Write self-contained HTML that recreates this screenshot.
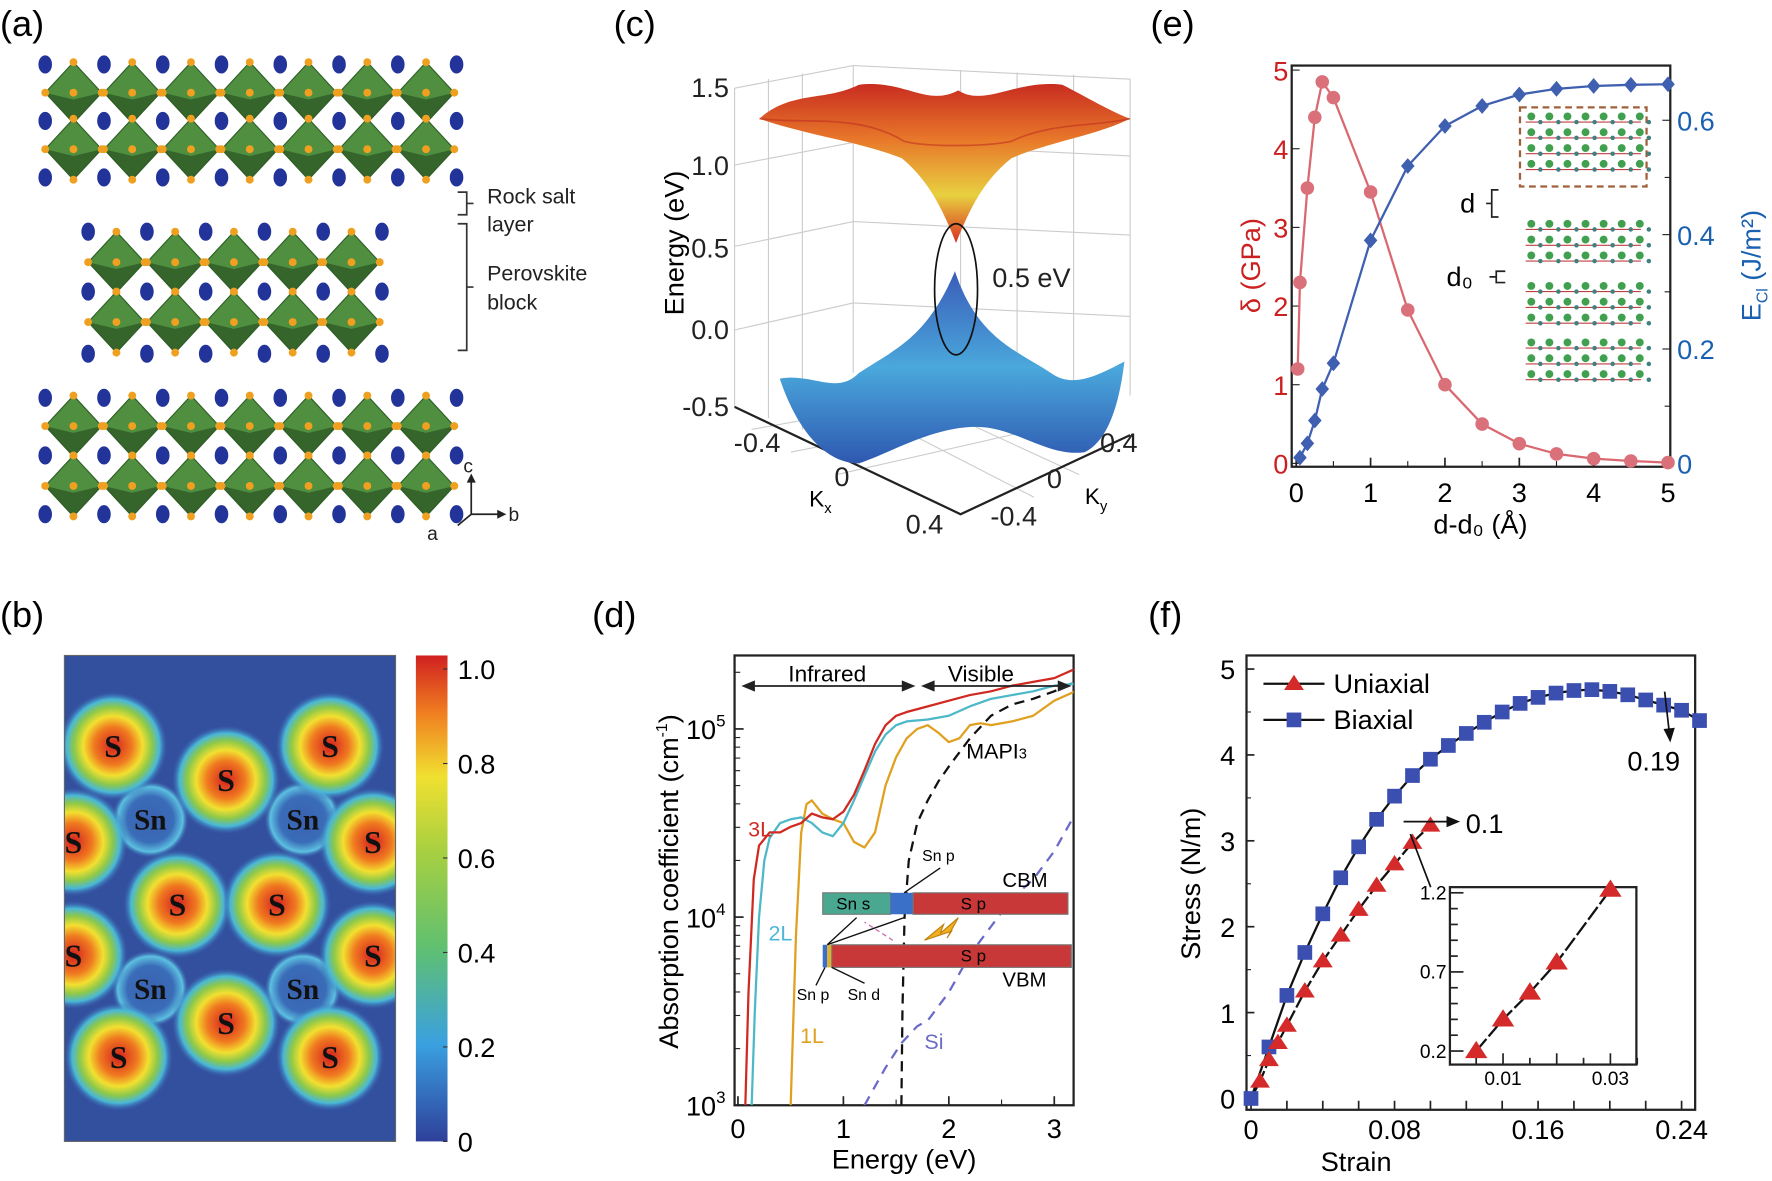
<!DOCTYPE html>
<html><head><meta charset="utf-8">
<style>
html,body{margin:0;padding:0;background:#fff;}
svg{display:block;font-family:"Liberation Sans",sans-serif;}
</style></head>
<body>
<svg id="fig" width="1772" height="1181" viewBox="0 0 1568 1045" xmlns="http://www.w3.org/2000/svg">
<defs>
  <radialGradient id="blob" cx="50%" cy="50%" r="50%">
    <stop offset="0" stop-color="#d42020"/>
    <stop offset="0.35" stop-color="#f07a20"/>
    <stop offset="0.55" stop-color="#f2e030"/>
    <stop offset="0.72" stop-color="#8cc84a"/>
    <stop offset="0.86" stop-color="#49b8d8"/>
    <stop offset="1" stop-color="#3a62b0" stop-opacity="0"/>
  </radialGradient>
  <radialGradient id="snblob" cx="50%" cy="50%" r="50%">
    <stop offset="0" stop-color="#3a62b0"/>
    <stop offset="0.6" stop-color="#3a6cb8"/>
    <stop offset="0.85" stop-color="#5cc0e0"/>
    <stop offset="1" stop-color="#3a62b0" stop-opacity="0"/>
  </radialGradient>
  <linearGradient id="cbar" x1="0" y1="1" x2="0" y2="0">
    <stop offset="0" stop-color="#2e3f9a"/>
    <stop offset="0.2" stop-color="#3aa0e0"/>
    <stop offset="0.4" stop-color="#60c070"/>
    <stop offset="0.6" stop-color="#a8d040"/>
    <stop offset="0.75" stop-color="#f0e030"/>
    <stop offset="0.88" stop-color="#f08020"/>
    <stop offset="1" stop-color="#d02020"/>
  </linearGradient>
  <linearGradient id="topSurf" x1="0" y1="0" x2="0" y2="1">
    <stop offset="0" stop-color="#c82c20"/>
    <stop offset="0.35" stop-color="#e8782a"/>
    <stop offset="0.7" stop-color="#e8d040"/>
    <stop offset="1" stop-color="#d83020"/>
  </linearGradient>
  <linearGradient id="botSurf" x1="0" y1="0" x2="0" y2="1">
    <stop offset="0" stop-color="#3a5cb8"/>
    <stop offset="0.5" stop-color="#4aa8dc"/>
    <stop offset="1" stop-color="#2e58b0"/>
  </linearGradient>
  <clipPath id="clipD"><rect x="650" y="580" width="300" height="398"/></clipPath>
  <clipPath id="clipB"><rect x="57" y="580" width="293" height="430"/></clipPath>
</defs>

<text x="0" y="32" font-size="32">(a)</text>
<text x="543" y="32" font-size="32">(c)</text>
<text x="1018" y="32" font-size="32">(e)</text>
<text x="0" y="555" font-size="32">(b)</text>
<text x="524" y="555" font-size="32">(d)</text>
<text x="1016" y="555" font-size="32">(f)</text>

<g id="panelA"></g>
<g font-size="19" fill="#222">
  <path d="M405,170 h8 v20 h-8 M413,180 h6" stroke="#333" fill="none" stroke-width="1.5"/>
  <path d="M405,198 h8 v112 h-8 M413,254 h6" stroke="#333" fill="none" stroke-width="1.5"/>
  <text x="431" y="180">Rock salt</text>
  <text x="431" y="205">layer</text>
  <text x="431" y="248">Perovskite</text>
  <text x="431" y="274">block</text>
  <path d="M417,455 v-30 M417,455 h25 M417,455 l-12,10" stroke="#222" stroke-width="1.5" fill="none"/>
  <path d="M413,427 l4,-8 l4,8z M440,451 l8,4 l-8,4z" fill="#222"/>
  <text x="410" y="418" font-size="17">c</text>
  <text x="450" y="461" font-size="17">b</text>
  <text x="378" y="478" font-size="17">a</text>
</g>

<g>
  <rect x="57" y="580" width="293" height="430" fill="#33509f"/>
  <g id="blobs" clip-path="url(#clipB)"></g>
  <rect x="57" y="580" width="293" height="430" fill="none" stroke="#666" stroke-width="1"/>
</g>
<g>
  <rect x="368" y="580" width="28" height="430" fill="url(#cbar)"/>
  <g id="cbarTicks" font-size="24"></g>
</g>

<g>
  <g stroke="#ccc" stroke-width="1" fill="none">
    <path d="M650,78 L755,58 L1000,70 L1000,350 M650,78 L650,360 M755,58 L755,330 M650,146 L755,126 M650,218 L755,196 M650,292 L755,268 M755,126 L1000,138 M755,196 L1000,208 M755,268 L1000,280"/>
    <path d="M680,70 L680,370 M710,65 L710,380 M850,62 L850,360 M900,64 L900,360 M950,66 L950,360"/>
    <path d="M665,380 L890,340 M700,400 L930,355 M740,420 L960,370 M760,330 L955,420 M720,340 L915,440"/>
  </g>
  <path d="M650,360 L850,455 L1000,385" stroke="#222" stroke-width="2" fill="none"/>
  <path d="M672,105 C700,80 730,90 760,75 C800,70 820,95 848,80 C870,95 900,70 940,75 C960,85 985,100 1000,105 C970,120 930,125 895,140 C870,160 858,185 846,215 C834,185 822,160 798,140 C760,125 715,120 672,105Z" fill="url(#topSurf)"/>
  <path d="M672,105 C710,110 760,100 800,125 C820,130 870,130 895,125 C930,108 970,112 1000,105" stroke="#c03020" stroke-width="1.5" fill="none" opacity="0.6"/>
  <path d="M690,335 C720,330 740,350 760,330 C790,310 820,300 845,240 C865,300 900,310 930,330 C950,345 975,330 995,320 C990,360 980,390 960,400 C930,405 900,380 870,378 C830,375 790,400 760,410 C730,410 705,380 690,335Z" fill="url(#botSurf)"/>
  <ellipse cx="846" cy="256" rx="19" ry="58" fill="none" stroke="#111" stroke-width="1.5"/>
  <text x="878" y="254" font-size="24" fill="#222">0.5 eV</text>
  <g font-size="24" fill="#222" text-anchor="end">
    <text x="645" y="86">1.5</text>
    <text x="645" y="155">1.0</text>
    <text x="645" y="228">0.5</text>
    <text x="645" y="300">0.0</text>
    <text x="645" y="368">-0.5</text>
  </g>
  <text transform="translate(605,215) rotate(-90)" text-anchor="middle" font-size="24">Energy (eV)</text>
  <g font-size="24" fill="#222" text-anchor="middle">
    <text x="670" y="400">-0.4</text>
    <text x="745" y="430">0</text>
    <text x="818" y="472">0.4</text>
    <text x="897" y="465">-0.4</text>
    <text x="933" y="432">0</text>
    <text x="990" y="400">0.4</text>
  </g>
  <text x="716" y="448" font-size="20">K<tspan font-size="13" dy="6">x</tspan></text>
  <text x="960" y="446" font-size="20">K<tspan font-size="13" dy="6">y</tspan></text>
</g>

<g id="panelD"></g>
<g id="panelE"></g>
<g id="panelF"></g>
</svg>

<script>
// ===== (d) data =====
const dXTicks = [0,1,2,3];
const dYTicks = [3,4,5];
const d3Lx = [0.07,0.1,0.15,0.2,0.3,0.4,0.5,0.6,0.7,0.8,0.9,1.0,1.1,1.2,1.3,1.4,1.5,1.6,1.8,2.0,2.2,2.4,2.6,2.8,3.0,3.2];
const d3Ly = [3,3.6,4.2,4.38,4.45,4.45,4.48,4.5,4.55,4.53,4.52,4.56,4.65,4.78,4.92,5.02,5.07,5.09,5.12,5.15,5.18,5.2,5.23,5.25,5.27,5.32];
const d2Lx = [0.13,0.16,0.2,0.25,0.3,0.4,0.5,0.6,0.7,0.8,0.9,1.0,1.1,1.2,1.3,1.4,1.5,1.6,1.8,2.0,2.2,2.4,2.6,2.8,3.0,3.2];
const d2Ly = [3,3.5,4.0,4.3,4.42,4.5,4.52,4.53,4.5,4.45,4.43,4.5,4.62,4.75,4.88,4.97,5.02,5.04,5.05,5.07,5.12,5.16,5.18,5.2,5.23,5.24];
const d1Lx = [0.5,0.55,0.6,0.65,0.7,0.8,0.9,1.0,1.1,1.2,1.3,1.4,1.5,1.6,1.7,1.8,1.9,2.0,2.1,2.2,2.3,2.4,2.6,2.8,3.0,3.2];
const d1Ly = [3,3.9,4.45,4.6,4.62,4.55,4.52,4.5,4.4,4.37,4.45,4.7,4.85,4.95,5.0,5.02,4.98,4.93,4.95,5.02,5.03,5.02,5.04,5.07,5.15,5.2];
const dMAx = [1.55,1.56,1.58,1.62,1.7,1.8,1.9,2.0,2.2,2.4,2.6,2.8,3.0,3.2];
const dMAy = [3,3.5,4.0,4.3,4.5,4.62,4.72,4.8,4.95,5.07,5.13,5.16,5.2,5.25];
const dSix = [1.2,1.4,1.55,1.7,1.8,2.0,2.2,2.4,2.6,2.8,3.0,3.2];
const dSiy = [3,3.2,3.33,3.42,3.45,3.6,3.8,3.95,4.1,4.2,4.35,4.55];

// ===== (e) data =====
const eXTicks = [0,1,2,3,4,5];
const eLTicks = [0,1,2,3,4,5];
const eRTicks = [0,0.2,0.4,0.6];
const eDx = [0.02,0.05,0.15,0.25,0.35,0.5,1,1.5,2,2.5,3,3.5,4,4.5,5];
const eDy = [1.2,2.3,3.5,4.4,4.85,4.65,3.45,1.95,1.0,0.5,0.25,0.12,0.06,0.03,0.01];
const eEx = [0.05,0.15,0.25,0.35,0.5,1,1.5,2,2.5,3,3.5,4,4.5,5];
const eEy = [0.01,0.035,0.075,0.13,0.175,0.39,0.52,0.59,0.625,0.645,0.655,0.66,0.662,0.663];

// ===== (f) data =====
const fXTicks = [0,0.08,0.16,0.24];
const fYTicks = [0,1,2,3,4,5];
const fBx = [0,0.01,0.02,0.03,0.04,0.05,0.06,0.07,0.08,0.09,0.1,0.11,0.12,0.13,0.14,0.15,0.16,0.17,0.18,0.19,0.2,0.21,0.22,0.23,0.24,0.25];
const fBy = [0,0.6,1.2,1.7,2.15,2.57,2.93,3.25,3.52,3.76,3.95,4.11,4.25,4.38,4.5,4.6,4.67,4.72,4.75,4.76,4.74,4.7,4.64,4.58,4.52,4.4];
const fUx = [0.005,0.01,0.015,0.02,0.03,0.04,0.05,0.06,0.07,0.08,0.09,0.1];
const fUy = [0.2,0.45,0.65,0.85,1.25,1.6,1.9,2.2,2.48,2.73,2.98,3.18];
const fIx = [0.005,0.01,0.015,0.02,0.03];
const fIy = [0.2,0.4,0.57,0.76,1.22];
const fIXTicks = [0.01,0.03];
const fIYTicks = [0.2,0.7,1.2];

const NS = "http://www.w3.org/2000/svg";
function mk(parent, tag, attrs, text){
  const e = document.createElementNS(NS, tag);
  for (const k in attrs) e.setAttribute(k, attrs[k]);
  if (text !== undefined) e.textContent = text;
  parent.appendChild(e);
  return e;
}

// ---------- (a) ----------
(function(){
  const g = document.getElementById('panelA');
  function block(cx0, n, rowYs, sphereYs, bx0, bn){
    rowYs.forEach(cy=>{
      for(let k=0;k<n;k++){
        const cx = cx0 + 52*k;
        const d = `M${cx},${cy-27} L${cx+25},${cy} L${cx},${cy+27} L${cx-25},${cy}Z`;
        const p = mk(g,'path',{d:d,fill:'#4f8f3f',stroke:'#2f5f27','stroke-width':1});
        
        
        mk(g,'path',{d:`M${cx-25},${cy} L${cx},${cy+27} L${cx+25},${cy} L${cx},${cy+6}Z`,fill:'#2e5a26',opacity:0.8});
        [[cx,cy-27],[cx+25,cy],[cx,cy+27],[cx-25,cy],[cx,cy]].forEach(q=>mk(g,'circle',{cx:q[0],cy:q[1],r:3.5,fill:'#f0a020'}));
      }
    });
    sphereYs.forEach(sy=>{
      for(let k=0;k<bn;k++){
        mk(g,'ellipse',{cx:bx0+52*k,cy:sy,rx:6,ry:8,fill:'#22349a'});
      }
    });
  }
  block(65,7,[82,132],[57,107,157],40,8);
  block(103,5,[232,285],[205,258,313],78,6);
  block(65,7,[377,430],[352,403,455],40,8);
})();

// ---------- (b) ----------
(function(){
  const g = document.getElementById('blobs');
  const S = [[100,660],[292,660],[200,690],[65,745],[330,745],[157,800],[245,800],[65,845],[330,845],[200,905],[105,935],[292,935]];
  const Sn = [[133,725],[268,725],[133,875],[268,875]];
  Sn.forEach(p=>{mk(g,'circle',{cx:p[0],cy:p[1],r:34,fill:'url(#snblob)'});});
  S.forEach(p=>{
    const c = mk(g,'circle',{cx:p[0],cy:p[1],r:48,fill:'url(#blob)'});
    
    
  });
  S.forEach(p=>mk(g,'text',{x:p[0],y:p[1]+10,'text-anchor':'middle','font-size':28,'font-weight':'bold','font-family':'Liberation Serif, serif',fill:'#111'},'S'));
  Sn.forEach(p=>mk(g,'text',{x:p[0],y:p[1]+9,'text-anchor':'middle','font-size':26,'font-weight':'bold','font-family':'Liberation Serif, serif',fill:'#111'},'Sn'));
  const t = document.getElementById('cbarTicks');
  ['1.0','0.8','0.6','0.4','0.2','0'].forEach((s,i)=>{
    const y = 592 + i*83.6;
    mk(t,'line',{x1:392,x2:396,y1:y,y2:y,stroke:'#333'});
    mk(t,'text',{x:405,y:y+9},s);
  });
})();

// ---------- (d) ----------
(function(){
  const g = document.getElementById('panelD');
  const X = v=>653+v*93.3, Y = l=>978-(l-3)*166.5;
  mk(g,'rect',{x:650,y:580,width:300,height:398,fill:'none',stroke:'#222','stroke-width':2});
  dXTicks.forEach(v=>{mk(g,'line',{x1:X(v),x2:X(v),y1:978,y2:970,stroke:'#222','stroke-width':1.5});mk(g,'text',{x:X(v),y:1007,'text-anchor':'middle','font-size':24},String(v));});
  [0.5,1.5,2.5].forEach(v=>mk(g,'line',{x1:X(v),x2:X(v),y1:978,y2:973,stroke:'#222'}));
  dYTicks.forEach(l=>{
    mk(g,'line',{x1:650,x2:658,y1:Y(l),y2:Y(l),stroke:'#222','stroke-width':1.5});
    const t = mk(g,'text',{x:642,y:Y(l)+9,'text-anchor':'end','font-size':24},'10');
    mk(t,'tspan',{'font-size':15,dy:-11},String(l));
  });
  for(let d=3; d<6; d++){for(let m=2;m<10;m++){const l=d+Math.log10(m); if(l<5.39) mk(g,'line',{x1:650,x2:655,y1:Y(l),y2:Y(l),stroke:'#222'});}}
  const ty = mk(g,'text',{transform:'translate(600,780) rotate(-90)','text-anchor':'middle','font-size':24},'Absorption coefficient (cm');
  mk(ty,'tspan',{'font-size':14,dy:-10},'-1');
  mk(ty,'tspan',{dy:10},')');
  mk(g,'text',{x:800,y:1034,'text-anchor':'middle','font-size':24},'Energy (eV)');
  const cg = mk(g,'g',{'clip-path':'url(#clipD)'});
  function line(xs,ys,color,dash,name){
    const pts = xs.map((x,i)=>X(x)+','+Y(ys[i])).join(' ');
    const p = mk(cg,'polyline',{points:pts,fill:'none',stroke:color,'stroke-width':2,'stroke-dasharray':dash||'none','stroke-linejoin':'round'});
    
    
  }
  line(dSix,dSiy,'#6a6ac8','9,7','si-curve');
  line(dMAx,dMAy,'#111','9,6','mapi3-curve');
  line(d1Lx,d1Ly,'#e0a020',null,'curve-1l');
  line(d2Lx,d2Ly,'#4cb8c8',null,'curve-2l');
  line(d3Lx,d3Ly,'#d02a20',null,'curve-3l');
  mk(g,'path',{d:'M660,607 H806 M818,607 H945',stroke:'#222','stroke-width':1.5,fill:'none'});
  mk(g,'path',{d:'M656,607 l12,-5 v10z M810,607 l-12,-5 v10z M815,607 l12,-5 v10z M948,607 l-12,-5 v10z',fill:'#222'});
  mk(g,'text',{x:732,y:603,'text-anchor':'middle','font-size':20},'Infrared');
  mk(g,'text',{x:868,y:603,'text-anchor':'middle','font-size':20},'Visible');
  mk(g,'text',{x:662,y:740,'font-size':19,fill:'#d02a20'},'3L');
  mk(g,'text',{x:680,y:832,'font-size':19,fill:'#4cb8d8'},'2L');
  mk(g,'text',{x:708,y:923,'font-size':19,fill:'#e0a020'},'1L');
  const ma = mk(g,'text',{x:855,y:671,'font-size':19},'MAPI');
  mk(ma,'tspan',{'font-size':13},'3');
  mk(g,'text',{x:818,y:928,'font-size':19,fill:'#6a6ac8'},'Si');
  const bi = mk(g,'g',{});
  
  
  mk(bi,'rect',{x:728,y:790,width:60,height:19,fill:'#4aa890',stroke:'#777'});
  mk(bi,'rect',{x:788,y:790,width:20,height:19,fill:'#3a70c8'});
  mk(bi,'rect',{x:808,y:790,width:137,height:19,fill:'#c83838',stroke:'#777'});
  mk(bi,'rect',{x:728,y:836,width:4,height:20,fill:'#3a70c8'});
  mk(bi,'rect',{x:732,y:836,width:4,height:20,fill:'#e0b030'});
  mk(bi,'rect',{x:736,y:836,width:212,height:20,fill:'#c83838',stroke:'#777'});
  mk(bi,'text',{x:740,y:805,'font-size':15},'Sn s');
  mk(bi,'text',{x:850,y:805,'font-size':15},'S p');
  mk(bi,'text',{x:850,y:851,'font-size':15},'S p');
  mk(bi,'text',{x:887,y:785,'font-size':18},'CBM');
  mk(bi,'text',{x:887,y:873,'font-size':18},'VBM');
  mk(bi,'text',{x:816,y:762,'font-size':14},'Sn p');
  mk(bi,'text',{x:705,y:885,'font-size':14},'Sn p');
  mk(bi,'text',{x:750,y:885,'font-size':14},'Sn d');
  mk(bi,'path',{d:'M732,836 L758,812 M732,836 L800,812 M800,790 L832,768 M730,856 L722,872 M736,856 L765,870',stroke:'#111','stroke-width':1.2,fill:'none'});
  mk(bi,'path',{d:'M790,832 L765,816',stroke:'#d070b0','stroke-width':1.2,'stroke-dasharray':'4,3',fill:'none'});
  mk(bi,'path',{d:'M818,832 L835,818 L832,826 L848,812 L838,830 L842,824 Z',fill:'#f0b020',stroke:'#c08010'});
})();

// ---------- (e) ----------
(function(){
  const g = document.getElementById('panelE');
  const X = v=>1147+v*65.8, YL = v=>410-v*69.6, YR = v=>410-v*506;
  mk(g,'rect',{x:1143,y:58,width:335,height:355,fill:'none',stroke:'#222','stroke-width':2});
  eXTicks.forEach(v=>{mk(g,'line',{x1:X(v),x2:X(v),y1:413,y2:405,stroke:'#222','stroke-width':1.5});mk(g,'text',{x:X(v),y:444,'text-anchor':'middle','font-size':24},String(v));});
  [0.5,1.5,2.5,3.5,4.5].forEach(v=>mk(g,'line',{x1:X(v),x2:X(v),y1:413,y2:408,stroke:'#222'}));
  eLTicks.forEach(v=>{mk(g,'line',{x1:1143,x2:1150,y1:YL(v),y2:YL(v),stroke:'#222'});mk(g,'text',{x:1140,y:YL(v)+9,'text-anchor':'end','font-size':24,fill:'#cc2020'},String(v));});
  eRTicks.forEach(v=>{mk(g,'line',{x1:1471,x2:1478,y1:YR(v),y2:YR(v),stroke:'#222'});mk(g,'text',{x:1484,y:YR(v)+9,'font-size':24,fill:'#1a60b0'},String(v));});
  [0.1,0.3,0.5].forEach(v=>mk(g,'line',{x1:1473,x2:1478,y1:YR(v),y2:YR(v),stroke:'#222'}));
  mk(g,'text',{transform:'translate(1115,235) rotate(-90)','text-anchor':'middle','font-size':24,fill:'#cc2020'},'δ (GPa)');
  const er = mk(g,'text',{transform:'translate(1558,235) rotate(-90)','text-anchor':'middle','font-size':24,fill:'#1a60b0'},'E');
  mk(er,'tspan',{'font-size':14,dy:6},'Cl');
  mk(er,'tspan',{dy:-6},' (J/m²)');
  mk(g,'text',{x:1310,y:472,'text-anchor':'middle','font-size':24},'d-d₀ (Å)');
  const si = mk(g,'g',{});
  
  
  mk(si,'rect',{x:1345,y:95,width:112,height:70,fill:'none',stroke:'#a0603a','stroke-width':2,'stroke-dasharray':'6,4'});
  [[100,160],[195,240],[250,295],[300,340]].forEach(b=>{
    for(let y=b[0]+8;y<b[1];y+=14){
      mk(si,'line',{x1:1350,x2:1452,y1:y,y2:y,stroke:'#c04040','stroke-width':1});
      for(let x=1355;x<1452;x+=16){mk(si,'circle',{cx:x,cy:y-5,r:3.5,fill:'#40a050'});mk(si,'circle',{cx:x+8,cy:y,r:2,fill:'#408080'});}
    }
  });
  mk(g,'path',{d:'M1315,180 h5 v-12 h6 M1320,180 v12 h6',stroke:'#222',fill:'none','stroke-width':1.5});
  mk(g,'text',{x:1292,y:188,'font-size':24},'d');
  mk(g,'path',{d:'M1318,245 h6 v-5 h8 M1324,245 v5 h8',stroke:'#222',fill:'none','stroke-width':1.5});
  mk(g,'text',{x:1280,y:253,'font-size':24},'d₀');
  const pd = eDx.map((x,i)=>X(x)+','+YL(eDy[i])).join(' ');
  const l1 = mk(g,'polyline',{points:pd,fill:'none',stroke:'#d96870','stroke-width':2});
  
  
  const pe = eEx.map((x,i)=>X(x)+','+YR(eEy[i])).join(' ');
  const l2 = mk(g,'polyline',{points:pe,fill:'none',stroke:'#3f5fb0','stroke-width':2});
  
  
  eDx.forEach((x,i)=>{
    const c = mk(g,'circle',{cx:X(x),cy:YL(eDy[i]),r:6,fill:'#d9707a'});
    
    
  });
  eEx.forEach((x,i)=>{
    const cx=X(x), cy=YR(eEy[i]);
    const d = mk(g,'path',{d:`M${cx},${cy-7} L${cx+6},${cy} L${cx},${cy+7} L${cx-6},${cy}Z`,fill:'#3f5fb0'});
    
    
  });
})();

// ---------- (f) ----------
(function(){
  const g = document.getElementById('panelF');
  const X = v=>1107+v*1587.5, Y = v=>972-v*76;
  mk(g,'rect',{x:1103,y:580,width:397,height:402,fill:'none',stroke:'#222','stroke-width':2});
  fXTicks.forEach(v=>{mk(g,'text',{x:X(v),y:1008,'text-anchor':'middle','font-size':24},String(v));});
  for(let v=0; v<=0.245; v+=0.02){mk(g,'line',{x1:X(v),x2:X(v),y1:982,y2:974,stroke:'#222','stroke-width':1.5});}
  fYTicks.forEach(v=>{mk(g,'line',{x1:1103,x2:1110,y1:Y(v),y2:Y(v),stroke:'#222','stroke-width':1.5});mk(g,'text',{x:1093,y:Y(v)+9,'text-anchor':'end','font-size':24},String(v));});
  [0.5,1.5,2.5,3.5,4.5].forEach(v=>mk(g,'line',{x1:1103,x2:1107,y1:Y(v),y2:Y(v),stroke:'#222'}));
  mk(g,'text',{transform:'translate(1062,782) rotate(-90)','text-anchor':'middle','font-size':24},'Stress (N/m)');
  mk(g,'text',{x:1200,y:1036,'text-anchor':'middle','font-size':24},'Strain');
  function tri(par,cx,cy,s,name){
    const t = mk(par,'path',{d:`M${cx},${cy-s} L${cx+s*1.1},${cy+s*0.7} L${cx-s*1.1},${cy+s*0.7}Z`,fill:'#d42a2a'});
    
    
  }
  const pb = fBx.map((x,i)=>X(x)+','+Y(fBy[i])).join(' ');
  const lb = mk(g,'polyline',{points:pb,fill:'none',stroke:'#111','stroke-width':2});
  
  
  const pu = [[X(0),Y(0)]].concat(fUx.map((x,i)=>[X(x),Y(fUy[i])])).map(p=>p.join(',')).join(' ');
  const lu = mk(g,'polyline',{points:pu,fill:'none',stroke:'#111','stroke-width':2,'stroke-dasharray':'12,3'});
  
  
  fBx.forEach((x,i)=>{
    const r = mk(g,'rect',{x:X(x)-6.5,y:Y(fBy[i])-6.5,width:13,height:13,fill:'#3a4fb0'});
    
    
  });
  fUx.forEach((x,i)=>tri(g,X(x),Y(fUy[i]),8,'uniaxial-point'));
  const lg = mk(g,'g',{});
  
  
  mk(lg,'line',{x1:1118,x2:1172,y1:605,y2:605,stroke:'#111','stroke-width':2});
  tri(lg,1145,605,8,'legend-uniaxial-marker');
  mk(lg,'text',{x:1180,y:613,'font-size':24},'Uniaxial');
  mk(lg,'line',{x1:1118,x2:1172,y1:637,y2:637,stroke:'#111','stroke-width':2});
  mk(lg,'rect',{x:1138.5,y:630.5,width:13,height:13,fill:'#3a4fb0'});
  mk(lg,'text',{x:1180,y:645,'font-size':24},'Biaxial');
  mk(g,'path',{d:'M1242,727 H1282',stroke:'#111','stroke-width':1.5});
  mk(g,'path',{d:'M1292,727 l-12,-5 v10z',fill:'#111'});
  mk(g,'text',{x:1297,y:737,'font-size':24},'0.1');
  mk(g,'path',{d:'M1473,612 L1477,647',stroke:'#111','stroke-width':1.5});
  mk(g,'path',{d:'M1478,657 l-6,-12 l10,-1z',fill:'#111'});
  mk(g,'text',{x:1440,y:682,'font-size':24},'0.19');
  mk(g,'path',{d:'M1248,738 L1266,785',stroke:'#111','stroke-width':1.5});
  const ig = mk(g,'g',{});
  
  
  const IX = v=>1330+(v-0.01)*4750, IY = v=>930-(v-0.2)*140;
  mk(ig,'rect',{x:1283,y:785,width:165,height:157,fill:'#fff',stroke:'#222','stroke-width':2});
  fIXTicks.forEach(v=>mk(ig,'text',{x:IX(v),y:960,'text-anchor':'middle','font-size':17},String(v)));
  for(let v=0.005; v<=0.035; v+=0.005){mk(ig,'line',{x1:IX(v),x2:IX(v),y1:942,y2:(Math.round(v*1000)%10===0)?932:936,stroke:'#222','stroke-width':1.5});}
  fIYTicks.forEach(v=>mk(ig,'text',{x:1280,y:IY(v)+6,'text-anchor':'end','font-size':17},String(v)));
  for(let v=0.2; v<=1.21; v+=0.1){mk(ig,'line',{x1:1283,x2:(Math.round(v*10)%5===2)?1295:1290,y1:IY(v),y2:IY(v),stroke:'#222','stroke-width':1.5});}
  const pi = fIx.map((x,i)=>IX(x)+','+IY(fIy[i])).join(' ');
  mk(ig,'polyline',{points:pi,fill:'none',stroke:'#111','stroke-width':2,'stroke-dasharray':'14,3'});
  fIx.forEach((x,i)=>tri(ig,IX(x),IY(fIy[i]),9,'inset-uniaxial-point'));
})();
</script>
</body></html>
